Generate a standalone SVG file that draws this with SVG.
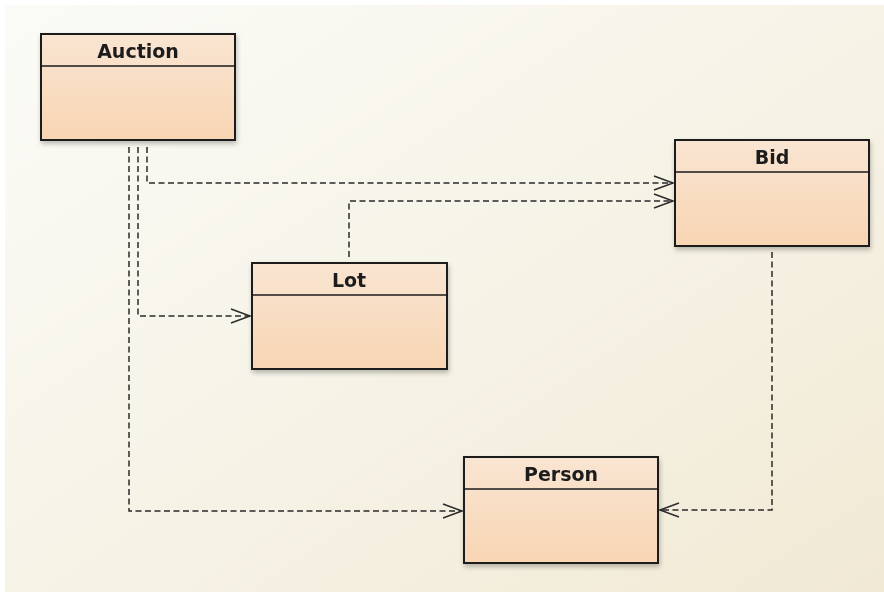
<svg xmlns="http://www.w3.org/2000/svg" width="884" height="592" viewBox="0 0 884 592">
<style>
.box{fill:url(#boxg);stroke:#1a1a1a;stroke-width:2}
.div{stroke:#1a1a1a;stroke-width:1.6}
.lbl{font-family:"DejaVu Sans",sans-serif;font-weight:bold;font-size:19px;fill:#1e1e1e;text-anchor:middle}
.con{fill:none;stroke:#2a2a2a;stroke-width:1.5;stroke-dasharray:6 3.5}
.ah{fill:none;stroke:#2a2a2a;stroke-width:1.5}
</style>
<defs>
<linearGradient id="bg" x1="0" y1="0" x2="1" y2="1">
<stop offset="0" stop-color="#fbfbf7"/>
<stop offset="0.5" stop-color="#f6f3e7"/>
<stop offset="1" stop-color="#f1e9d4"/>
</linearGradient>
<linearGradient id="boxg" x1="0" y1="0" x2="0" y2="1">
<stop offset="0" stop-color="#f9e5d2"/>
<stop offset="1" stop-color="#f8d5b3"/>
</linearGradient>
<filter id="sh" x="-10%" y="-10%" width="130%" height="130%">
<feGaussianBlur in="SourceAlpha" stdDeviation="2.5"/>
<feOffset dx="1" dy="3"/>
<feComponentTransfer><feFuncA type="linear" slope="0.25"/></feComponentTransfer>
<feMerge><feMergeNode/><feMergeNode in="SourceGraphic"/></feMerge>
</filter>
</defs>
<rect x="0" y="0" width="884" height="592" fill="#ffffff"/>
<rect x="5" y="5" width="879" height="587" fill="url(#bg)"/>

<g id="connectors">
<path class="con" d="M147,147 V183 H673"/>
<path class="ah" d="M654,176 L673,183 L654,190"/>
<path class="con" d="M349,257 V201 H673"/>
<path class="ah" d="M654,194 L673,201 L654,208"/>
<path class="con" d="M138,147 V316 H250"/>
<path class="ah" d="M231,309 L250,316 L231,323"/>
<path class="con" d="M129,147 V511 H462"/>
<path class="ah" d="M443,504 L462,511 L443,518"/>
<path class="con" d="M772,252 V510 H660"/>
<path class="ah" d="M679,503 L660,510 L679,517"/>
</g>

<g id="Auction" filter="url(#sh)">
<rect class="box" x="41" y="34" width="194" height="106"/>
<line class="div" x1="41" y1="66" x2="235" y2="66"/>
<text class="lbl" x="138" y="57.5">Auction</text>
</g>
<g id="Bid" filter="url(#sh)">
<rect class="box" x="675" y="140" width="194" height="106"/>
<line class="div" x1="675" y1="172" x2="869" y2="172"/>
<text class="lbl" x="772" y="163.5">Bid</text>
</g>
<g id="Lot" filter="url(#sh)">
<rect class="box" x="252" y="263" width="195" height="106"/>
<line class="div" x1="252" y1="295" x2="447" y2="295"/>
<text class="lbl" x="349" y="286.5">Lot</text>
</g>
<g id="Person" filter="url(#sh)">
<rect class="box" x="464" y="457" width="194" height="106"/>
<line class="div" x1="464" y1="489" x2="658" y2="489"/>
<text class="lbl" x="561" y="480.5">Person</text>
</g>
</svg>
